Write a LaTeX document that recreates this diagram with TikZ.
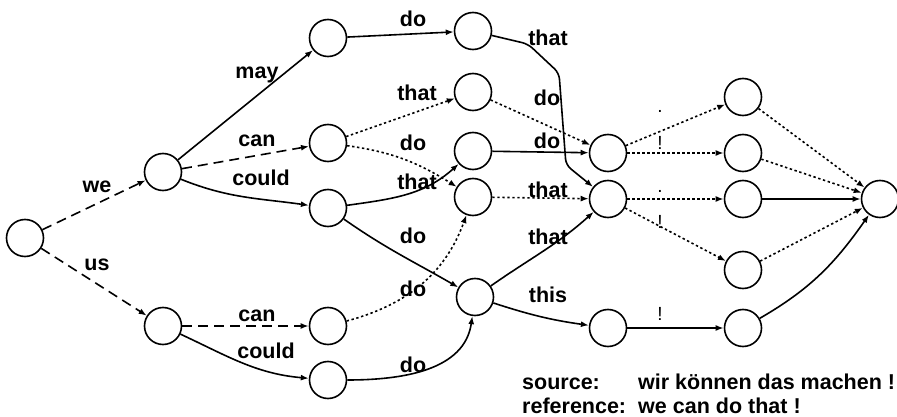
\documentclass[tikz,border=0pt]{standalone}
\usepackage{fontspec}
\setmainfont{Liberation Sans}
\usetikzlibrary{arrows.meta}
\tikzset{
  state/.style={circle,draw,line width=1.6pt,minimum size=37pt,inner sep=0pt},
  word/.style={font=\fontsize{21.5}{24}\selectfont\bfseries,inner sep=0pt},
  punct/.style={font=\fontsize{19}{22}\selectfont,inner sep=0pt},
  arc/.style={line width=1.6pt,-{Latex[length=8pt,width=6pt]}},
  dotarc/.style={arc,dash pattern=on 2.4pt off 2.6pt},
  dasharc/.style={arc,dash pattern=on 10pt off 6pt}
}
\begin{document}
\begin{tikzpicture}[x=1pt,y=-1pt]
\useasboundingbox (0,0) rectangle (897,417);
% States
\node[state] (a1) at (25,238) {};
\node[state] (b1) at (163,172) {};
\node[state] (b2) at (163,326) {};
\node[state] (c1) at (328,38) {};
\node[state] (c2) at (328,143) {};
\node[state] (c3) at (328,208) {};
\node[state] (c4) at (328,326) {};
\node[state] (c5) at (328,380) {};
\node[state] (d1) at (473,31) {};
\node[state] (d2) at (473,92) {};
\node[state] (d3) at (473,151) {};
\node[state] (d4) at (473,197) {};
\node[state] (d5) at (475,297) {};
\node[state] (e1) at (608,153) {};
\node[state] (e2) at (608,199) {};
\node[state] (e3) at (608,328) {};
\node[state] (f1) at (743,97) {};
\node[state] (f2) at (743,153) {};
\node[state] (f3) at (743,199) {};
\node[state] (f4) at (743,270) {};
\node[state] (f5) at (743,328) {};
\node[state] (g1) at (880,199) {};
% Arcs
\draw[dasharc] (a1) -- (b1);
\draw[dasharc] (a1) -- (b2);
\draw[arc] (b1) -- (c1);
\draw[dasharc] (b1) -- (c2);
\draw[arc] (b1) to[out=-22,in=172] (c3);
\draw[dasharc] (b2) -- (c4);
\draw[arc] (b2) to[out=-25,in=175] (c5);
\draw[arc] (c1) -- (d1);
\draw[dotarc] (c2) -- (d2);
\draw[dotarc] (c2) to[out=-8,in=148] (d4);
\draw[arc] (c3) to[out=8,in=222] (d3);
\draw[arc] (c3) to[out=-35,in=150] (d5);
\draw[dotarc] (c4) to[out=15,in=250] (d4);
\draw[arc] (c5) to[out=0,in=262] (d5);
\draw[arc,rounded corners=6pt] (d1) -- (528,44) -- (559,73) -- (566,165) -- (e2);
\draw[dotarc] (d2) -- (e1);
\draw[arc] (d3) -- (e1);
\draw[dotarc] (d4) -- (e2);
\draw[arc] (d5) to[out=35,in=222] (e2);
\draw[arc] (d5) to[out=-18,in=172] (e3);
\draw[dotarc] (e1) -- (f1);
\draw[dotarc] (e1) -- (f2);
\draw[dotarc] (e2) -- (f3);
\draw[dotarc] (e2) -- (f4);
\draw[arc] (e3) -- (f5);
\draw[dotarc] (f1) -- (g1);
\draw[dotarc] (f2) -- (g1);
\draw[arc] (f3) -- (g1);
\draw[dotarc] (f4) -- (g1);
\draw[arc] (f5) to[out=30,in=235] (g1);
% Words
\node[word] (lwe) at (97,187) {we};
\node[word] (lus) at (97,265) {us};
\node[word] (lmay) at (257,75) {may};
\node[word] (lcan1) at (257,141) {can};
\node[word] (lcould1) at (261,178) {could};
\node[word] (lcan2) at (257,316) {can};
\node[word] (lcould2) at (266,351) {could};
\node[word] (ldo1) at (413,19) {do};
\node[word] (lthat1) at (417,93) {that};
\node[word] (ldo2) at (413,143) {do};
\node[word] (lthat2) at (417,182) {that};
\node[word] (ldo3) at (413,236) {do};
\node[word] (ldo4) at (413,289) {do};
\node[word] (ldo5) at (413,365) {do};
\node[word] (lthat3) at (548,38) {that};
\node[word] (ldo6) at (547,98) {do};
\node[word] (ldo7) at (547,141) {do};
\node[word] (lthat4) at (548,190) {that};
\node[word] (lthat5) at (548,237) {that};
\node[word] (lthis) at (548,295) {this};
\node[punct] (lp1) at (660,111) {.};
\node[punct] (lx1) at (660,143) {!};
\node[punct] (lp2) at (660,191) {.};
\node[punct] (lx2) at (660,222) {!};
\node[punct] (lx3) at (660,314) {!};
% Sentence
\node[word,anchor=base west] (src) at (522,389) {source:};
\node[word,anchor=base west] (srctext) at (638,389) {wir können das machen !};
\node[word,anchor=base west] (ref) at (522,413) {reference:};
\node[word,anchor=base west] (reftext) at (638,413) {we can do that !};
\end{tikzpicture}
\end{document}
